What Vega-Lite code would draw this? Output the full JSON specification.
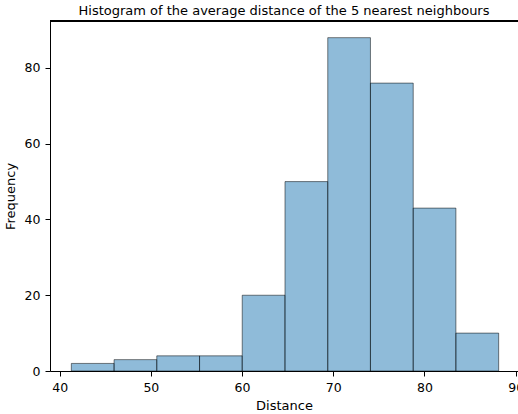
{
  "$schema": "https://vega.github.io/schema/vega-lite/v6.json",
  "width": 468,
  "height": 350,
  "autosize": {"type": "none"},
  "padding": {"left": 50, "top": 21, "right": 0, "bottom": 43},
  "background": "white",
  "title": {
    "text": "Histogram of the average distance of the 5 nearest neighbours",
    "font": "DejaVu Sans",
    "fontSize": 13,
    "fontWeight": "normal",
    "color": "black",
    "anchor": "middle",
    "offset": 3
  },
  "config": {
    "view": {"stroke": null},
    "axis": {
      "labelFont": "DejaVu Sans",
      "titleFont": "DejaVu Sans",
      "labelFontSize": 12.5,
      "titleFontSize": 13,
      "titleFontWeight": "normal",
      "labelColor": "black",
      "titleColor": "black",
      "domainColor": "black",
      "tickColor": "black",
      "tickSize": 5,
      "labelPadding": 5,
      "grid": false,
      "labelFlush": false,
      "labelOverlap": false
    }
  },
  "data": {
    "values": [
      {"bin_start": 41.28, "bin_end": 45.97, "count": 2},
      {"bin_start": 45.97, "bin_end": 50.65, "count": 3},
      {"bin_start": 50.65, "bin_end": 55.34, "count": 4},
      {"bin_start": 55.34, "bin_end": 60.02, "count": 4},
      {"bin_start": 60.02, "bin_end": 64.71, "count": 20},
      {"bin_start": 64.71, "bin_end": 69.4, "count": 50},
      {"bin_start": 69.4, "bin_end": 74.08, "count": 88},
      {"bin_start": 74.08, "bin_end": 78.77, "count": 76},
      {"bin_start": 78.77, "bin_end": 83.45, "count": 43},
      {"bin_start": 83.45, "bin_end": 88.14, "count": 10}
    ]
  },
  "layer": [
    {
      "mark": {"type": "rect", "fill": "#1f77b4", "fillOpacity": 0.5, "stroke": "black", "strokeOpacity": 0.5, "strokeWidth": 1},
      "encoding": {
        "x": {
          "field": "bin_start",
          "type": "quantitative",
          "scale": {"domain": [38.94, 90.26], "nice": false, "zero": false},
          "axis": {"values": [40, 50, 60, 70, 80, 90], "title": "Distance", "titlePadding": 6}
        },
        "x2": {"field": "bin_end"},
        "y": {
          "field": "count",
          "type": "quantitative",
          "scale": {"domain": [0, 92.4], "nice": false},
          "axis": {"values": [0, 20, 40, 60, 80], "title": "Frequency", "titlePadding": 7}
        }
      }
    },
    {
      "mark": {"type": "rule", "color": "black", "strokeWidth": 1},
      "encoding": {"y": {"datum": 92.4}}
    }
  ]
}
